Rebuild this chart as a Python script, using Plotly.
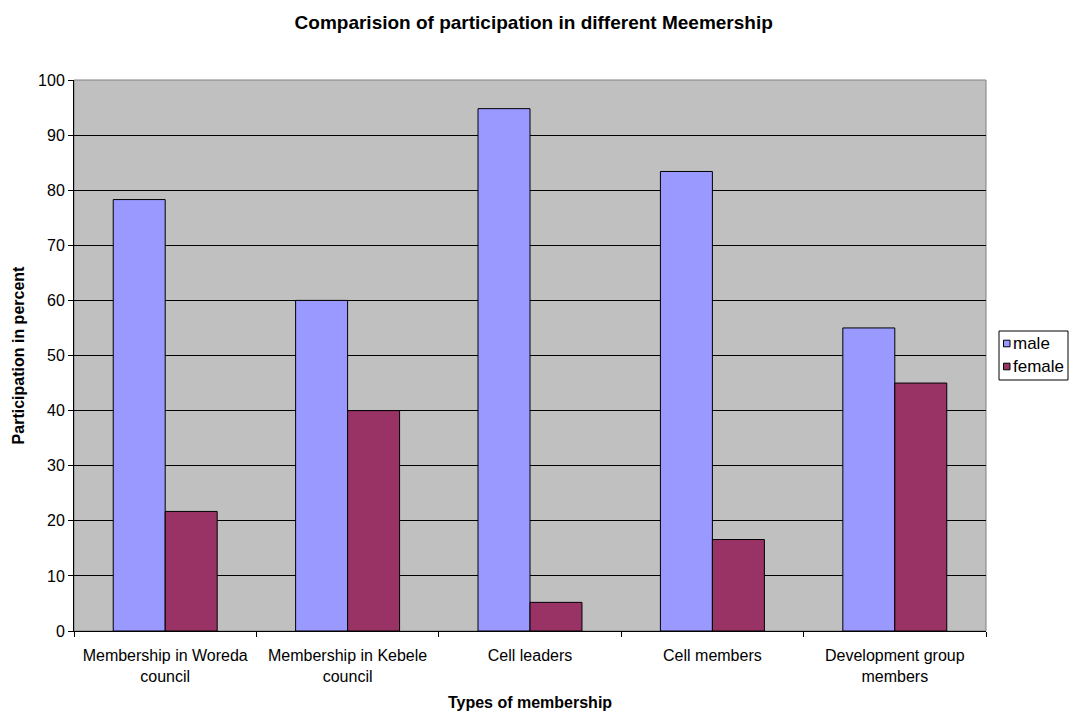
import plotly.graph_objects as go

categories = [
    "Membership in Woreda<br>council",
    "Membership in Kebele<br>council",
    "Cell leaders",
    "Cell members",
    "Development group<br>members",
]
male = [78.3, 60.0, 94.8, 83.4, 55.0]
female = [21.7, 40.0, 5.2, 16.6, 45.0]
y_ticks = list(range(0, 101, 10))

series = [("male", male, "#9999FF"), ("female", female, "#993366")]

font_family = "Liberation Sans, Arial, sans-serif"
W, H = 1078, 713
M_L, M_R, M_T, M_B = 74, 92, 80, 82


def px_x(px):
    """pixel column -> paper x"""
    return (px - M_L) / (W - M_L - M_R)


def px_y(py):
    """pixel row -> paper y"""
    return (H - M_B - py) / (H - M_T - M_B)


fig = go.Figure()
for name, values, color in series:
    fig.add_trace(go.Bar(
        name=name, x=categories, y=values,
        marker=dict(color=color, line=dict(color="#000000", width=1)),
        showlegend=False,
    ))

# grey frame around the plot area (top/right edges visible)
fig.add_shape(type="rect", xref="paper", yref="paper", x0=0, y0=0, x1=1, y1=1,
              line=dict(color="#808080", width=1), layer="below")

# legend box with a small swatch per series
fig.add_shape(type="rect", xref="paper", yref="paper",
              x0=px_x(999), x1=px_x(1068), y0=px_y(380), y1=px_y(331),
              line=dict(color="#000000", width=1), fillcolor="#FFFFFF")
for i, (name, values, color) in enumerate(series):
    cy = 343.5 + i * 23
    fig.add_shape(type="rect", xref="paper", yref="paper",
                  x0=px_x(1003.5), x1=px_x(1010), y0=px_y(cy + 3.3), y1=px_y(cy - 3.3),
                  line=dict(color="#000000", width=1), fillcolor=color)
    fig.add_annotation(text=name, xref="paper", yref="paper",
                       x=px_x(1010.5), y=px_y(cy), xanchor="left", yanchor="middle",
                       showarrow=False, font=dict(size=17, family=font_family, color="#000000"))

fig.update_layout(
    width=W, height=H,
    margin=dict(l=M_L, r=M_R, t=M_T, b=M_B, autoexpand=False),
    paper_bgcolor="#FFFFFF",
    plot_bgcolor="#C0C0C0",
    barmode="group",
    bargap=0.43,
    bargroupgap=0,
    font=dict(family=font_family, size=16, color="#000000"),
    title=dict(
        text="<b>Comparision of participation in different Meemership</b>",
        x=533.7 / W, xref="container", xanchor="center",
        y=1 - 22 / H, yref="container", yanchor="middle",
        font=dict(size=19, family=font_family),
    ),
    showlegend=False,
)

fig.update_xaxes(
    title=dict(text="<b>Types of membership</b>", font=dict(size=16), standoff=12),
    showline=True, linecolor="#000000", linewidth=1,
    ticks="outside", tickson="boundaries", ticklen=5, tickcolor="#000000",
    tickfont=dict(size=16), ticklabelstandoff=10,
    showgrid=False,
)
fig.update_yaxes(
    title=dict(text="<b>Participation in percent</b>", font=dict(size=16), standoff=9),
    range=[0, 100], tickvals=y_ticks,
    showline=True, linecolor="#000000", linewidth=1,
    ticks="outside", ticklen=5, tickcolor="#000000",
    tickfont=dict(size=16),
    showgrid=True, gridcolor="#000000", gridwidth=1,
    zeroline=False,
)

fig.write_html("out.html")
